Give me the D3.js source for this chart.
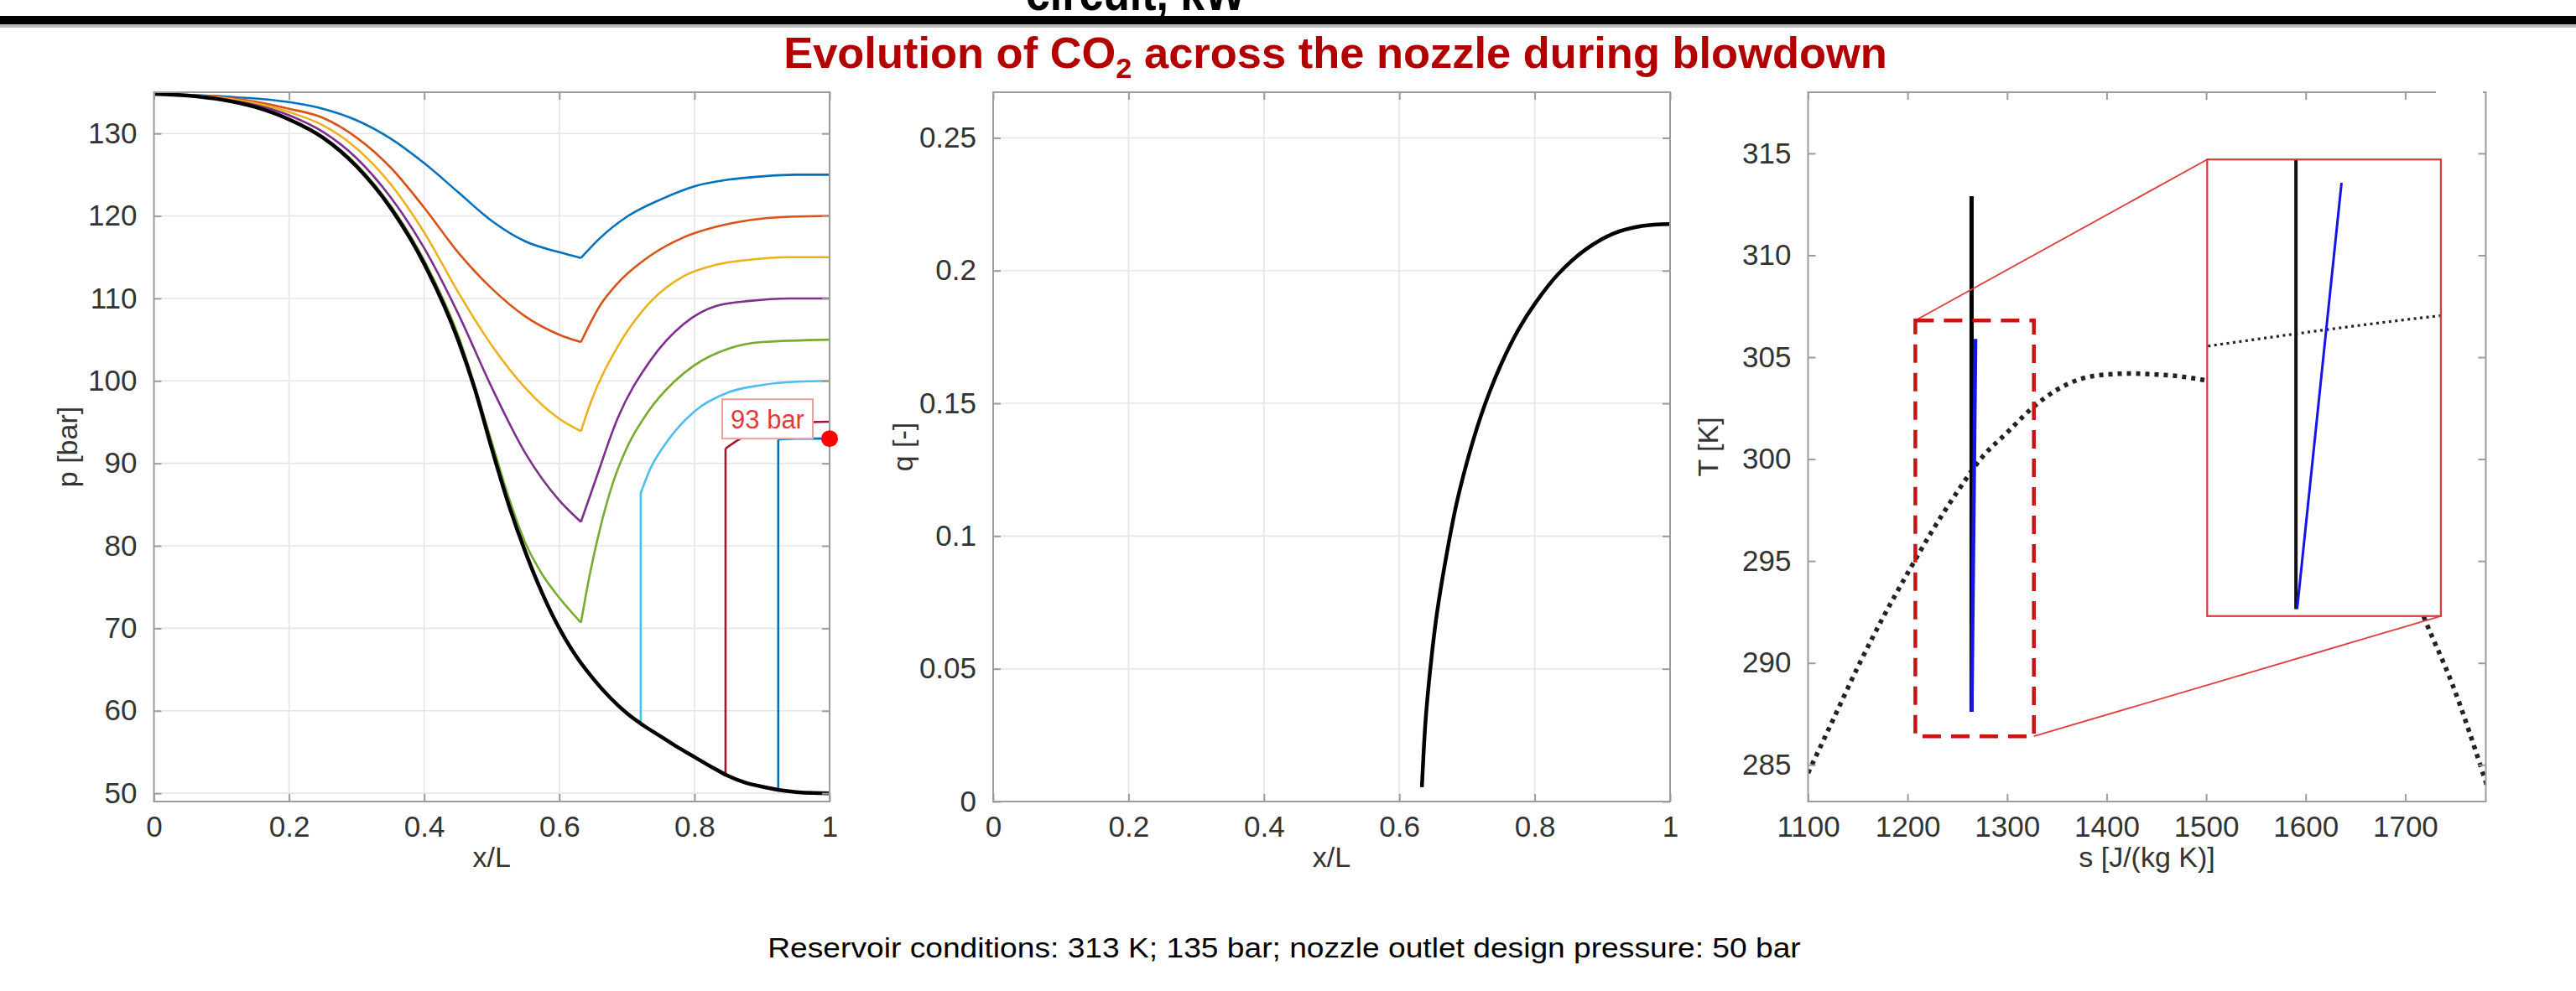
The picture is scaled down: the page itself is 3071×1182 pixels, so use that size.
<!DOCTYPE html>
<html>
<head>
<meta charset="utf-8">
<script src="https://cdn.jsdelivr.net/npm/d3@7"></script>
<style>
  html, body { margin: 0; padding: 0; background: #fff; }
  svg { display: block; }
  text { font-family: "Liberation Sans", Arial, Helvetica, sans-serif; }
</style>
</head>
<body>
<svg id="fig" width="3071" height="1182"></svg>
<script>
// ---------------- data ----------------
const xTicks = [0, 0.2, 0.4, 0.6, 0.8, 1];
const pTicks = [50, 60, 70, 80, 90, 100, 110, 120, 130];
const qTicks = [0, 0.05, 0.1, 0.15, 0.2, 0.25];
const sTicks = [1100, 1200, 1300, 1400, 1500, 1600, 1700];
const TTicks = [285, 290, 295, 300, 305, 310, 315];

// design (fully expanded) pressure profile along the nozzle
const designX = [0, 0.05, 0.1, 0.15, 0.2, 0.25, 0.3, 0.35, 0.4, 0.45, 0.475, 0.5, 0.525, 0.55, 0.575, 0.6, 0.625, 0.65, 0.675, 0.7, 0.725, 0.75, 0.775, 0.8, 0.825, 0.85, 0.875, 0.9, 0.925, 0.95, 0.975, 1];
const designP = [134.8, 134.6, 134.1, 133.2, 131.7, 129.5, 126.0, 121.0, 114.2, 105.0, 99.0, 91.8, 85.0, 79.2, 74.2, 70.0, 66.6, 63.9, 61.6, 59.7, 58.2, 56.9, 55.6, 54.4, 53.2, 52.1, 51.3, 50.8, 50.4, 50.15, 50.03, 50.0];

// off-design profiles: upstream of the kink and downstream recovery
const up125 = [[0,134.8],[0.1,134.5],[0.2,133.8],[0.25,133.0],[0.3,131.6],[0.35,129.4],[0.4,126.4],[0.45,122.9],[0.5,119.4],[0.55,116.9],[0.6,115.6],[0.632,114.9]];
const down125 = [[0.632,114.9],[0.66,117.3],[0.7,119.9],[0.75,122.0],[0.8,123.6],[0.85,124.4],[0.9,124.8],[0.95,125.0],[1,125.0]];
const up120 = [[0,134.8],[0.1,134.4],[0.2,133.0],[0.25,131.9],[0.3,129.5],[0.35,125.9],[0.4,121.0],[0.45,115.6],[0.5,111.2],[0.55,107.8],[0.6,105.6],[0.632,104.7]];
const down120 = [[0.632,104.7],[0.66,109.1],[0.686,111.8],[0.735,115.2],[0.784,117.4],[0.833,118.7],[0.882,119.5],[0.94,119.9],[1,120.0]];
const up115 = [[0,134.8],[0.1,134.3],[0.2,132.6],[0.25,131.0],[0.3,128.2],[0.35,123.9],[0.4,118.0],[0.45,110.8],[0.5,104.3],[0.55,99.1],[0.6,95.4],[0.632,93.9]];
const down115 = [[0.632,93.9],[0.647,97.5],[0.686,104.1],[0.735,109.6],[0.784,112.7],[0.833,114.1],[0.882,114.7],[0.94,115.0],[1,115.0]];
const up110 = [[0,134.8],[0.1,134.2],[0.2,132.2],[0.25,130.2],[0.3,127.0],[0.35,122.3],[0.4,116.1],[0.45,108.2],[0.5,99.2],[0.55,91.2],[0.6,85.5],[0.632,82.9]];
const down110 = [[0.632,82.9],[0.652,87.6],[0.686,95.4],[0.735,102.5],[0.784,106.9],[0.833,109.1],[0.882,109.7],[0.94,110.0],[1,110.0]];
const up105 = [[0,134.8],[0.1,134.15],[0.2,131.8],[0.25,129.6],[0.3,126.2],[0.35,121.3],[0.4,114.6],[0.45,105.6],[0.5,92.6],[0.525,85.9],[0.55,80.3],[0.575,76.5],[0.6,73.7],[0.632,70.7]];
const down105 = [[0.632,70.7],[0.645,76.5],[0.66,82.0],[0.68,87.8],[0.7,91.9],[0.73,96.1],[0.77,99.9],[0.8,101.9],[0.85,103.9],[0.9,104.7],[1,105.0]];

// profiles with a normal shock in the divergent section
const shockX = [0.7205, 0.846, 0.924];
const shockFootP = [58.5, 52.1, 50.4];
const post100 = [[0.7205,86.4],[0.735,89.4],[0.76,92.7],[0.8,96.3],[0.85,98.6],[0.9,99.5],[0.95,99.9],[1,100.0]];
const post95 = [[0.846,91.8],[0.866,92.9],[0.9,94.2],[0.95,94.9],[1,95.05]];
const post93 = [[0.924,92.9],[0.95,93.0],[1,93.0]];

const outletX = 1, outletP = 93, outletLabel = "93 bar";

// vapour quality along the nozzle
const qX = [0.6334, 0.639, 0.6475, 0.6558, 0.668, 0.6848, 0.7056, 0.7263, 0.7512, 0.776, 0.801, 0.834, 0.8756, 0.917, 0.9586, 1.0];
const qV = [0.0054, 0.0312, 0.0541, 0.0713, 0.0904, 0.1125, 0.1330, 0.1495, 0.1652, 0.1778, 0.1878, 0.1985, 0.2080, 0.2140, 0.2168, 0.2175];

// saturation dome in the T-s plane
const domeS = [1100, 1125, 1150, 1175, 1200, 1225, 1250, 1275, 1300, 1325, 1350, 1375, 1400, 1425, 1450, 1475, 1500, 1550, 1600, 1650, 1700, 1720, 1747, 1782];
const domeT = [284.6, 287.2, 289.8, 292.2, 294.4, 296.5, 298.4, 300.1, 301.3, 302.5, 303.4, 303.95, 304.15, 304.2, 304.15, 304.05, 303.85, 303.0, 301.4, 298.8, 294.6, 292.1, 289.0, 284.0];
// isentropic and computed expansion paths
const isenS = [1264.3, 1264.3], isenT = [287.6, 312.9];
const realS = [1264.4, 1268.2], realT = [287.6, 305.9];
// zoom window, where its magnified view sits, and the magnified range
const boxS = [1207.8, 1326.9], boxT = [286.4, 306.8];
const insetS = [1501, 1735.8], insetT = [292.3, 314.7];
const viewS = [1256.7, 1276.7], viewT = [287.3, 306.9];

// ---------------- drawing ----------------
const svg = d3.select("#fig");
const FONT = '"Liberation Sans", Arial, Helvetica, sans-serif';
const AX = "#9c9c9c", GRID = "#e6e6e6", TXT = "#333";
const TICK_FS = 35, TITLE_FS = 34;
const TOP = 110, BOTTOM = 956;

function fitText(sel, targetW) {
  const w = sel.node().getComputedTextLength();
  return targetW / w;
}

// slide header
const head = svg.append("text").attr("text-anchor", "middle")
  .attr("font-size", 58).attr("font-weight", "bold").attr("fill", "#000").text("circuit, kW");
head.attr("transform", `translate(1354,12) scale(${fitText(head, 262)},1)`);
svg.append("rect").attr("x", 0).attr("y", 19).attr("width", 3071).attr("height", 10).attr("fill", "#000");
svg.append("rect").attr("x", 0).attr("y", 29).attr("width", 3071).attr("height", 4).attr("fill", "#bdbdbd");

const title = svg.append("text").attr("text-anchor", "middle").attr("font-size", 52)
  .attr("font-weight", "bold").attr("fill", "#B20000");
title.append("tspan").text("Evolution of CO");
title.append("tspan").attr("font-size", 34).attr("dy", 12).text("2");
title.append("tspan").attr("dy", -12).text(" across the nozzle during blowdown");
title.attr("transform", `translate(1592,81) scale(${fitText(title, 1316)},1)`);

const caption = svg.append("text").attr("text-anchor", "middle").attr("font-size", 33).attr("fill", "#000")
  .text("Reservoir conditions: 313 K; 135 bar; nozzle outlet design pressure: 50 bar");
caption.attr("transform", `translate(1531,1142) scale(${fitText(caption, 1232)},1)`);

function frame(g, x, y, xt, yt) {
  const [x0, x1] = x.range();
  const [y0, y1] = y.range();
  g.append("g").selectAll("line").data(xt).join("line")
    .attr("x1", d => x(d)).attr("x2", d => x(d)).attr("y1", y0).attr("y2", y1)
    .attr("stroke", GRID).attr("stroke-width", 1.6);
  g.append("g").selectAll("line").data(yt).join("line")
    .attr("x1", x0).attr("x2", x1).attr("y1", d => y(d)).attr("y2", d => y(d))
    .attr("stroke", GRID).attr("stroke-width", 1.6);
}

function axes(g, x, y, xt, yt) {
  const [x0, x1] = x.range();
  const [y0, y1] = y.range();
  const fmt = d => String(d);
  const styleTicks = a => {
    a.select(".domain").remove();
    a.selectAll("line").attr("stroke", AX).attr("stroke-width", 2);
  };
  g.append("g").attr("transform", `translate(0,${y0})`)
    .call(d3.axisBottom(x).tickValues(xt).tickFormat(fmt).tickSize(-9).tickPadding(17))
    .call(styleTicks)
    .call(a => a.selectAll("text").attr("font-size", TICK_FS).attr("font-family", FONT).attr("fill", TXT));
  g.append("g").attr("transform", `translate(${x0},0)`)
    .call(d3.axisLeft(y).tickValues(yt).tickFormat(fmt).tickSize(-9).tickPadding(20))
    .call(styleTicks)
    .call(a => a.selectAll("text").attr("font-size", TICK_FS).attr("font-family", FONT).attr("fill", TXT));
  g.append("g").attr("transform", `translate(0,${y1})`)
    .call(d3.axisTop(x).tickValues(xt).tickFormat("").tickSize(-9)).call(styleTicks);
  g.append("g").attr("transform", `translate(${x1},0)`)
    .call(d3.axisRight(y).tickValues(yt).tickFormat("").tickSize(-9)).call(styleTicks);
  g.append("rect").attr("x", x0).attr("y", y1).attr("width", x1 - x0).attr("height", y0 - y1)
    .attr("fill", "none").attr("stroke", AX).attr("stroke-width", 2);
}

function axisTitles(x, xLabel, yLabel, yLabelX) {
  const [x0, x1] = x.range();
  svg.append("text").attr("x", (x0 + x1) / 2).attr("y", 1034).attr("text-anchor", "middle")
    .attr("font-size", TITLE_FS).attr("fill", TXT).text(xLabel);
  svg.append("text").attr("transform", `translate(${yLabelX},${(TOP + BOTTOM) / 2}) rotate(-90)`)
    .attr("text-anchor", "middle").attr("font-size", TITLE_FS).attr("fill", TXT).text(yLabel);
}

// ---- panel 1: pressure along the nozzle ----
const xL = d3.scaleLinear().domain([0, 1]).range([183.5, 989]);
const yL = d3.scaleLinear().domain([49, 135]).range([BOTTOM, TOP]);
const gL = svg.append("g");
frame(gL, xL, yL, xTicks, pTicks);
const lineL = d3.line().x(d => xL(d[0])).y(d => yL(d[1])).curve(d3.curveMonotoneX);
const segL = d3.line().x(d => xL(d[0])).y(d => yL(d[1]));
const design = designX.map((x, i) => [x, designP[i]]);

const offDesign = [
  { up: up125, down: down125, color: "#0072BD" },
  { up: up120, down: down120, color: "#D95319" },
  { up: up115, down: down115, color: "#EDB120" },
  { up: up110, down: down110, color: "#7E2F8E" },
  { up: up105, down: down105, color: "#77AC30" }
];
offDesign.forEach(s => {
  gL.append("path").attr("d", lineL(s.up)).attr("fill", "none").attr("stroke", s.color).attr("stroke-width", 2.6);
  gL.append("path").attr("d", lineL(s.down)).attr("fill", "none").attr("stroke", s.color).attr("stroke-width", 2.6);
});

const shockSeries = [
  { post: post100, color: "#4DBEEE" },
  { post: post95, color: "#A2142F" },
  { post: post93, color: "#0072BD" }
];
shockSeries.forEach((s, i) => {
  const xs = shockX[i];
  const pre = design.filter(d => d[0] < xs).concat([[xs, shockFootP[i]]]);
  gL.append("path").attr("d", lineL(pre)).attr("fill", "none").attr("stroke", s.color).attr("stroke-width", 2.6);
  gL.append("path").attr("d", segL([[xs, shockFootP[i]], s.post[0]])).attr("fill", "none")
    .attr("stroke", s.color).attr("stroke-width", 2.6);
  gL.append("path").attr("d", lineL(s.post)).attr("fill", "none").attr("stroke", s.color).attr("stroke-width", 2.6);
});

gL.append("path").attr("d", lineL(design)).attr("fill", "none").attr("stroke", "#000").attr("stroke-width", 4.5);
axes(gL, xL, yL, xTicks, pTicks);

// outlet pressure annotation
const ox = xL(outletX), oy = yL(outletP);
gL.append("rect").attr("x", ox - 128).attr("y", oy - 47).attr("width", 108).attr("height", 47)
  .attr("fill", "#fff").attr("stroke", "#EE9C9C").attr("stroke-width", 2);
gL.append("text").attr("x", ox - 74).attr("y", oy - 12).attr("text-anchor", "middle")
  .attr("font-size", 31).attr("fill", "#E23A3A").text(outletLabel);
gL.append("circle").attr("cx", ox).attr("cy", oy).attr("r", 10).attr("fill", "#FF0000");
axisTitles(xL, "x/L", "p [bar]", 92);

// ---- panel 2: vapour quality ----
const xM = d3.scaleLinear().domain([0, 1]).range([1184, 1991]);
const yM = d3.scaleLinear().domain([0, 0.2672]).range([BOTTOM, TOP]);
const gM = svg.append("g");
frame(gM, xM, yM, xTicks, qTicks);
const lineM = d3.line().x(d => xM(d[0])).y(d => yM(d[1])).curve(d3.curveCatmullRom.alpha(0.5));
gM.append("path").attr("d", lineM(qX.map((x, i) => [x, qV[i]]))).attr("fill", "none")
  .attr("stroke", "#000").attr("stroke-width", 4.5);
axes(gM, xM, yM, xTicks, qTicks);
axisTitles(xM, "x/L", "q [-]", 1088);

// ---- panel 3: T-s diagram ----
const xR = d3.scaleLinear().domain([1100, 1781]).range([2155.5, 2963.5]);
const yR = d3.scaleLinear().domain([283.2, 318]).range([BOTTOM, TOP]);
const gR = svg.append("g");
const defs = svg.append("defs");
defs.append("clipPath").attr("id", "clipR").append("rect")
  .attr("x", 2155.5).attr("y", TOP).attr("width", 808).attr("height", BOTTOM - TOP);
const dataR = gR.append("g").attr("clip-path", "url(#clipR)");
const lineR = d3.line().x(d => xR(d[0])).y(d => yR(d[1])).curve(d3.curveMonotoneX);
const segR = d3.line().x(d => xR(d[0])).y(d => yR(d[1]));
const dome = domeS.map((s, i) => [s, domeT[i]]);
dataR.append("path").attr("d", lineR(dome)).attr("fill", "none").attr("stroke", "#222")
  .attr("stroke-width", 5.5).attr("stroke-dasharray", "5 6");
dataR.append("path").attr("d", segR(isenS.map((s, i) => [s, isenT[i]]))).attr("fill", "none")
  .attr("stroke", "#000").attr("stroke-width", 5);
dataR.append("path").attr("d", segR(realS.map((s, i) => [s, realT[i]]))).attr("fill", "none")
  .attr("stroke", "#1515E8").attr("stroke-width", 4.5);

// zoom window and connectors
const bx0 = xR(boxS[0]), bx1 = xR(boxS[1]), by0 = yR(boxT[1]), by1 = yR(boxT[0]);
const ix0 = xR(insetS[0]), ix1 = xR(insetS[1]), iy0 = yR(insetT[1]), iy1 = yR(insetT[0]);
gR.append("line").attr("x1", bx0).attr("y1", by0).attr("x2", ix0).attr("y2", iy0)
  .attr("stroke", "#E03C3C").attr("stroke-width", 1.8);
gR.append("line").attr("x1", bx1).attr("y1", by1).attr("x2", ix1).attr("y2", iy1)
  .attr("stroke", "#E03C3C").attr("stroke-width", 1.8);
gR.append("rect").attr("x", bx0).attr("y", by0).attr("width", bx1 - bx0).attr("height", by1 - by0)
  .attr("fill", "none").attr("stroke", "#C81414").attr("stroke-width", 4.5).attr("stroke-dasharray", "22 12");

// magnified view
gR.append("rect").attr("x", ix0).attr("y", iy0).attr("width", ix1 - ix0).attr("height", iy1 - iy0)
  .attr("fill", "#fff");
defs.append("clipPath").attr("id", "clipI").append("rect")
  .attr("x", ix0).attr("y", iy0).attr("width", ix1 - ix0).attr("height", iy1 - iy0);
const xI = d3.scaleLinear().domain(viewS).range([ix0, ix1]);
const yI = d3.scaleLinear().domain(viewT).range([iy1, iy0]);
const lineI = d3.line().x(d => xI(d[0])).y(d => yI(d[1])).curve(d3.curveMonotoneX);
const segI = d3.line().x(d => xI(d[0])).y(d => yI(d[1]));
const gI = gR.append("g").attr("clip-path", "url(#clipI)");
gI.append("path").attr("d", lineI(dome)).attr("fill", "none").attr("stroke", "#222")
  .attr("stroke-width", 3.2).attr("stroke-dasharray", "3 4.5");
gI.append("path").attr("d", segI(isenS.map((s, i) => [s, isenT[i]]))).attr("fill", "none")
  .attr("stroke", "#111").attr("stroke-width", 4);
gI.append("path").attr("d", segI(realS.map((s, i) => [s, realT[i]]))).attr("fill", "none")
  .attr("stroke", "#1515E8").attr("stroke-width", 3);
gR.append("rect").attr("x", ix0).attr("y", iy0).attr("width", ix1 - ix0).attr("height", iy1 - iy0)
  .attr("fill", "none").attr("stroke", "#D43A3A").attr("stroke-width", 2.2);

axes(gR, xR, yR, sTicks, TTicks);
// the top frame edge stops short of the right-hand corner
gR.append("rect").attr("x", 2904).attr("y", TOP - 4).attr("width", 56).attr("height", 8).attr("fill", "#fff");
axisTitles(xR, "s [J/(kg K)]", "T [K]", 2048);
</script>
</body>
</html>
